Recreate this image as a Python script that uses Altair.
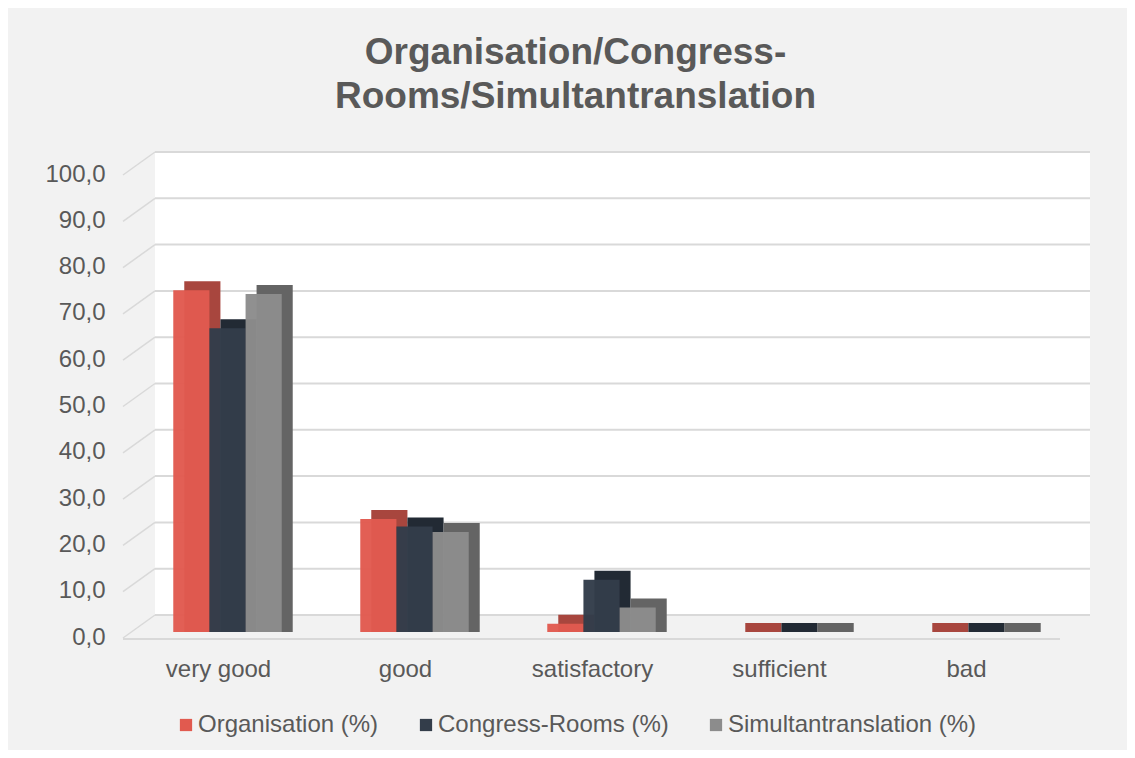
import altair as alt
import pandas as pd

categories = ["very good", "good", "satisfactory", "sufficient", "bad"]
series = ["Organisation (%)", "Congress-Rooms (%)", "Simultantranslation (%)"]
organisation = [73.8, 24.4, 1.8, 0.0, 0.0]
congress_rooms = [65.6, 22.8, 11.3, 0.0, 0.0]
simultan = [73.0, 21.6, 5.3, 0.0, 0.0]
y_ticks = [0, 10, 20, 30, 40, 50, 60, 70, 80, 90, 100]

front_colors = ["#E15A4F", "#333D4A", "#8C8C8C"]
depth_colors = ["#A8463E", "#222A34", "#646464"]

rows = []
for name, vals in zip(series, [organisation, congress_rooms, simultan]):
    for c, v in zip(categories, vals):
        rows.append({"category": c, "series": name, "value": v})
df = pd.DataFrame(rows)
ticks_df = pd.DataFrame({"v": y_ticks})
wall_df = pd.DataFrame({"top": [100], "bottom": [0]})
floor_df = pd.DataFrame({"z": [0]})

W, H = 935, 463
DX, DY = 30, -17
FONT = "Liberation Sans"
GREY = "#595959"
LINE = "#D9D9D9"
PAD_IN, PAD_OUT = 0.42, 0.21
STEP = W / (len(categories) - PAD_IN + 2 * PAD_OUT)
BW = STEP * (1 - PAD_IN)
SHIFT = 9
BDX, BDY = 11, -9

yscale = alt.Scale(domain=[0, 100], nice=False)
xscale = alt.Scale(paddingInner=PAD_IN, paddingOuter=PAD_OUT)
yaxis = alt.Axis(values=y_ticks, title=None, domain=False, ticks=False,
                 grid=False, labelFontSize=24, labelColor=GREY, labelFont=FONT,
                 labelPadding=20, labelOffset=5,
                 labelExpr="replace(format(datum.value, '.1f'), '.', ',')")

wall = alt.Chart(wall_df).mark_rect(
    fill="white", xOffset=DX, x2Offset=DX, yOffset=DY, y2Offset=DY
).encode(
    x=alt.value(0), x2=alt.value(W),
    y=alt.Y("top:Q", scale=yscale, axis=yaxis), y2="bottom:Q",
)

grid = alt.Chart(ticks_df).mark_rule(
    color=LINE, strokeWidth=2, xOffset=DX, x2Offset=DX, yOffset=DY
).encode(
    x=alt.value(0), x2=alt.value(W),
    y=alt.Y("v:Q", scale=yscale),
)

diag = alt.Chart(ticks_df).mark_rule(
    color=LINE, strokeWidth=1.5, yOffset=6, y2Offset=DY
).encode(
    x=alt.value(-2), x2=alt.value(DX),
    y=alt.Y("v:Q", scale=yscale),
    y2="v:Q",
)

front_edge = alt.Chart(floor_df).mark_rule(color=LINE, strokeWidth=2, yOffset=7).encode(
    x=alt.value(-2), x2=alt.value(W),
    y=alt.Y("z:Q", scale=yscale),
)

xenc = alt.X("category:N", sort=categories, scale=xscale,
             axis=alt.Axis(title=None, domain=False, ticks=False, labelAngle=0,
                           labelFontSize=24, labelColor=GREY, labelFont=FONT,
                           labelPadding=25))

depth = alt.Chart(df).mark_bar(yOffset=BDY, y2Offset=0).encode(
    x=xenc,
    xOffset=alt.XOffset("series:N", sort=series,
                        scale=alt.Scale(paddingInner=0, paddingOuter=0,
                                        range=[SHIFT + BDX, SHIFT + BDX + BW])),
    y=alt.Y("value:Q", scale=yscale), y2=alt.datum(0),
    color=alt.Color("series:N", sort=series,
                    scale=alt.Scale(domain=series, range=depth_colors), legend=None),
)

front = alt.Chart(df).mark_bar(opacity=0.97).encode(
    x=xenc,
    xOffset=alt.XOffset("series:N", sort=series,
                        scale=alt.Scale(paddingInner=0, paddingOuter=0,
                                        range=[SHIFT, SHIFT + BW])),
    y=alt.Y("value:Q", scale=yscale), y2=alt.datum(0),
    color=alt.Color("series:N", sort=series,
                    scale=alt.Scale(domain=series, range=front_colors),
                    legend=alt.Legend(orient="none", legendX=49, legendY=544,
                                      direction="horizontal", title=None,
                                      symbolType="square", symbolSize=150,
                                      symbolStrokeWidth=0, symbolOpacity=1,
                                      labelFontSize=24, labelColor=GREY, labelFont=FONT,
                                      labelLimit=500,
                                      columnPadding=35, labelOffset=0)),
)

chart = alt.layer(wall, grid, diag, front_edge, depth, front).resolve_scale(
    color="independent", xOffset="independent"
).properties(
    width=W, height=H,
    background="#F2F2F2",
    padding={"left": 117, "top": 161, "right": 67, "bottom": 118},
    autosize=alt.AutoSizeParams(type="none"),
    title=alt.Title(["Organisation/Congress-", "Rooms/Simultantranslation"],
                    anchor="middle", fontSize=37, fontWeight="bold", color=GREY,
                    font=FONT, lineHeight=44, dx=-17, offset=35),
).configure_view(stroke=None)

chart.save("out.html", embed_options={"renderer": "svg", "actions": False})
